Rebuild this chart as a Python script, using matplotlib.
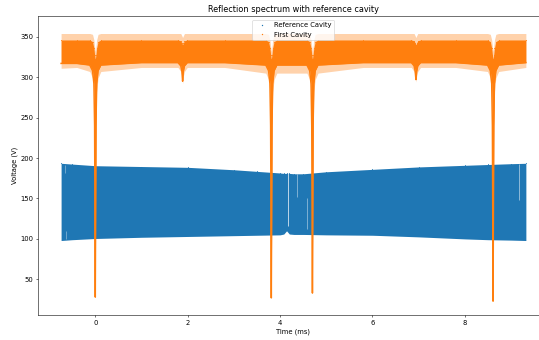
import matplotlib.pyplot as plt

# Reference cavity signal: upper / lower edge of the dense band (V)
blue_t = [-0.74, -0.5, 0.0, 1.0, 2.0, 3.0, 3.5, 4.0, 4.08, 4.14, 4.2, 4.3, 4.5, 5.0, 6.0, 7.0, 8.0, 8.5, 9.0, 9.32]
blue_top = [193.5, 192.5, 190.5, 189.5, 188.5, 185.5, 183.5, 181.5, 181, 181, 181, 180.5, 180.5, 183, 186, 189, 191, 192, 193, 193.5]
blue_bot = [98, 99, 100.5, 102, 103, 104, 104.5, 105, 106, 110, 106, 105.5, 105.5, 105, 104.5, 102.5, 100, 99, 98.5, 98]

# white dropouts inside the reference band
gap_t = [4.17, 4.37, 4.59, 9.18, -0.65, -0.64]
gap_lo = [116, 152, 112, 148, 182, 100]
gap_hi = [181, 180, 150, 192, 191, 110]
gap_alpha = [1.0, 0.6, 0.6, 0.7, 0.5, 0.5]

# First cavity signal: dense band edges, outer noise edges, with the dips
orange_t = [-0.74, -0.4,
            -0.12, -0.06, -0.03, -0.015, 0.0, 0.015, 0.03, 0.06, 0.12,
            1.0,
            1.79, 1.85, 1.875, 1.89, 1.905, 1.93, 1.99,
            2.8,
            3.69, 3.75, 3.78, 3.795, 3.81, 3.825, 3.84, 3.87, 3.93,
            4.58, 4.64, 4.67, 4.685, 4.70, 4.715, 4.73, 4.76, 4.82,
            5.8,
            6.84, 6.90, 6.925, 6.94, 6.955, 6.98, 7.04,
            7.8,
            8.49, 8.55, 8.58, 8.595, 8.61, 8.625, 8.64, 8.67, 8.73,
            9.32]
orange_top = [346, 346,
              346, 344, 336, 328, 322, 328, 336, 344, 346,
              346,
              346, 345, 342, 340, 342, 345, 346,
              346,
              346, 344, 336, 328, 322, 328, 336, 344, 346,
              346, 344, 336, 328, 322, 328, 336, 344, 346,
              346,
              346, 345, 342, 340, 342, 345, 346,
              346,
              346, 344, 336, 328, 322, 328, 336, 344, 346,
              346]
orange_bot = [317, 317,
              315, 308, 292, 240, 28, 240, 292, 308, 315,
              318,
              318, 314, 307, 295, 307, 314, 318,
              318,
              315, 308, 292, 240, 27, 240, 292, 308, 315,
              315, 308, 292, 240, 33, 240, 292, 308, 315,
              318,
              318, 314, 307, 297, 307, 314, 318,
              318,
              315, 308, 292, 240, 23, 240, 292, 308, 315,
              318]
fuzz_top = [354, 354,
            354, 353, 346, 338, 332, 338, 346, 353, 354,
            354,
            354, 354, 351, 349, 351, 354, 354,
            354,
            354, 353, 346, 338, 332, 338, 346, 353, 354,
            354, 353, 346, 338, 332, 338, 346, 353, 354,
            354,
            354, 354, 351, 349, 351, 354, 354,
            354,
            354, 353, 346, 338, 332, 338, 346, 353, 354,
            354]
fuzz_bot = [311, 312,
            307, 299, 282, 220, 28, 220, 282, 299, 307,
            312,
            312, 307, 301, 292, 301, 307, 312,
            312,
            305, 297, 282, 220, 27, 220, 282, 297, 305,
            305, 297, 282, 220, 33, 220, 282, 297, 305,
            312,
            312, 307, 301, 294, 301, 307, 312,
            312,
            307, 299, 282, 220, 23, 220, 282, 299, 307,
            312]

blue = '#1f77b4'
orange = '#ff7f0e'

fig = plt.figure(figsize=(11, 6.9389), dpi=49)
# the original was cropped on the right, so the axes run past the figure edge
ax = fig.add_axes([0.0705, 0.0726, 0.948, 0.880])

# reference cavity band
ax.fill_between(blue_t, blue_bot, blue_top, color=blue, lw=0, zorder=1)
ax.plot(blue_t, blue_top, '.', color=blue, ms=1, label='Reference Cavity', zorder=1)
for t, lo, hi, a in zip(gap_t, gap_lo, gap_hi, gap_alpha):
    ax.vlines(t, lo, hi, color='white', lw=1.0, alpha=a, zorder=1.5)

# first cavity band with the resonance dips
ax.fill_between(orange_t, fuzz_bot, fuzz_top, color=orange, alpha=0.35, lw=0, zorder=2)
ax.fill_between(orange_t, orange_bot, orange_top, color=orange, lw=0, zorder=2)
ax.plot(orange_t, orange_bot, '-', color=orange, lw=2.2, zorder=2)
ax.plot(orange_t, orange_top, '.', color=orange, ms=1, label='First Cavity', zorder=2)

ax.set_xlim(-1.24, 9.82)
ax.set_ylim(5.5, 375.5)
ax.set_xlabel('Time (ms)')
ax.set_ylabel('Voltage (V)')
ax.set_title('Reflection spectrum with reference cavity')
ax.legend(loc='upper center', markerscale=2)

fig.savefig('out.png', dpi=49)
